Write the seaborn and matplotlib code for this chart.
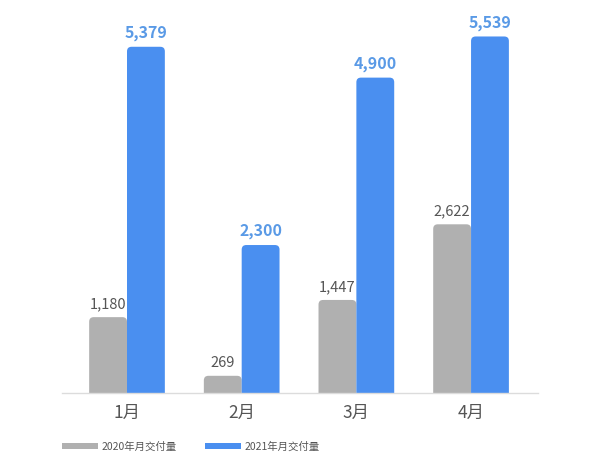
import matplotlib
matplotlib.use("Agg")
import matplotlib.pyplot as plt
import seaborn as sns
import pandas as pd
from matplotlib.patches import FancyBboxPatch, Rectangle

months = ["1月", "2月", "3月", "4月"]
series_names = ["2020年月交付量", "2021年月交付量"]
values_2020 = [1180, 269, 1447, 2622]
values_2021 = [5379, 2300, 4900, 5539]
colors = ["#b0b0b0", "#4a8ff0"]
label_colors = ["#555555", "#5a9ae6"]

sns.set_theme(style="white")
plt.rcParams["font.family"] = ["Noto Sans CJK SC", "DejaVu Sans"]

df = pd.DataFrame({
    "month": months * 2,
    "series": [series_names[0]] * 4 + [series_names[1]] * 4,
    "value": values_2020 + values_2021,
})

XMIN, XMAX, YMAX = -0.567, 3.584, 5950

fig = plt.figure(figsize=(6, 4.55), dpi=100)
ax = fig.add_axes([0.1033, 0.136, 0.7934, 0.842])
sns.barplot(data=df, x="month", y="value", hue="series", palette=colors,
            width=0.66, gap=0, dodge=True, ax=ax, legend=False,
            saturation=1, errorbar=None)

ax.set_xlim(XMIN, XMAX)
ax.set_ylim(0, YMAX)

bbox = ax.get_window_extent()
xpx = bbox.width / (XMAX - XMIN)
ypx = bbox.height / YMAX

for p in list(ax.patches):
    x, w, h = p.get_x(), p.get_width(), p.get_height()
    fc = p.get_facecolor()
    p.set_visible(False)
    fp = FancyBboxPatch((x, -200), w, h + 200,
                        boxstyle="round,pad=0,rounding_size=0.04",
                        mutation_aspect=xpx / ypx,
                        facecolor=fc, edgecolor="none", clip_on=True)
    ax.add_patch(fp)

for j, (container, col) in enumerate(zip(ax.containers, label_colors)):
    for p in container:
        val = p.get_height()
        ax.annotate(f"{int(round(val)):,}", (p.get_x() + p.get_width() / 2, val),
                    xytext=(0, 4), textcoords="offset points",
                    ha="center", va="bottom", fontsize=11.5 if j else 10.5,
                    color=col, fontweight="semibold" if j else "normal")

ax.set_xlabel("")
ax.set_ylabel("")
ax.set_yticks([])
ax.tick_params(axis="x", length=0, labelsize=12.5, labelcolor="#555555", pad=8)
for s in ["top", "right", "left"]:
    ax.spines[s].set_visible(False)
ax.spines["bottom"].set_color("#dcdcdc")
ax.spines["bottom"].set_linewidth(1)

handles = [Rectangle((0, 0), 1, 1, facecolor=c, edgecolor="none") for c in colors]
fig.legend(handles, series_names, loc="center left",
           bbox_to_anchor=(0.087, 0.018), ncol=2, frameon=False,
           fontsize=7.5, handlelength=3.45, handleheight=0.5,
           handletextpad=0.4, columnspacing=2.7, labelcolor="#555555")

fig.savefig("out.png", dpi=100, facecolor="white")
